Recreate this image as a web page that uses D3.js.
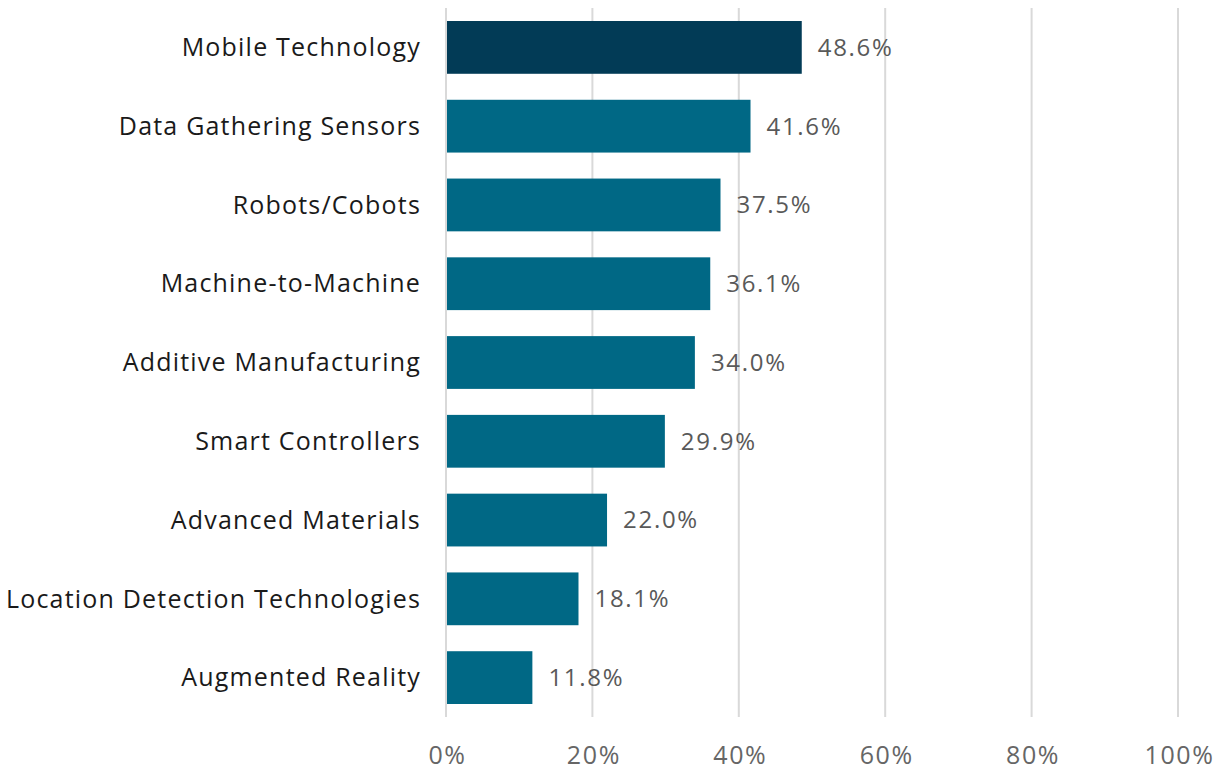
<!DOCTYPE html>
<html>
<head>
<meta charset="utf-8">
<script src="https://cdn.jsdelivr.net/npm/d3@7"></script>
<style>
  body { margin: 0; background: #fff; }
  svg text { font-family: "Open Sans", sans-serif; }
</style>
</head>
<body>
<div id="chart"></div>
<script>
var categories = [
    "Mobile Technology",
    "Data Gathering Sensors",
    "Robots/Cobots",
    "Machine-to-Machine",
    "Additive Manufacturing",
    "Smart Controllers",
    "Advanced Materials",
    "Location Detection Technologies",
    "Augmented Reality"
];
var values = [48.6, 41.6, 37.5, 36.1, 34.0, 29.9, 22.0, 18.1, 11.8];
var tick_values = [0, 20, 40, 60, 80, 100];

var width = 1227, height = 772;

var svg = d3.select("#chart")
    .append("svg")
    .attr("width", width)
    .attr("height", height);

var x = d3.scaleLinear()
    .domain([0, 100])
    .range([446, 1178]);

var y = d3.scaleBand()
    .domain(categories)
    .range([8, 717])
    .paddingInner(0.33)
    .paddingOuter(0.165);

// gridlines
svg.append("g")
    .selectAll("line")
    .data(tick_values)
    .enter()
    .append("line")
    .attr("x1", function (d) { return x(d); })
    .attr("x2", function (d) { return x(d); })
    .attr("y1", 8)
    .attr("y2", 717)
    .style("stroke", "#d9d9d9")
    .style("stroke-width", 2);

// x axis labels
svg.append("g")
    .attr("transform", "translate(1,755)")
    .call(d3.axisBottom(x).tickValues(tick_values)
        .tickFormat(function (d) { return d + "%"; })
        .tickSize(0).tickPadding(0))
    .call(function (g) { g.select(".domain").remove(); })
    .selectAll("text")
    .attr("dy", "0.35em")
    .style("font-family", "'Open Sans', sans-serif")
    .style("font-size", "25px")
    .style("letter-spacing", "1.6px")
    .style("fill", "#666666");

// bars
svg.append("g")
    .selectAll("rect")
    .data(values)
    .enter()
    .append("rect")
    .attr("x", x(0) + 1)
    .attr("y", function (d, i) { return y(categories[i]); })
    .attr("width", function (d) { return x(d) - x(0) - 1; })
    .attr("height", y.bandwidth())
    .style("fill", function (d, i) { return i == 0 ? "#023b56" : "#006885"; });

// value labels
svg.append("g")
    .selectAll("text")
    .data(values)
    .enter()
    .append("text")
    .attr("x", function (d) { return x(d) + 16; })
    .attr("y", function (d, i) { return y(categories[i]) + y.bandwidth() / 2; })
    .attr("dy", "0.35em")
    .style("font-size", "24px")
    .style("letter-spacing", "1.7px")
    .style("fill", "#595959")
    .text(function (d) { return d.toFixed(1) + "%"; });

// category labels
svg.append("g")
    .selectAll("text")
    .data(categories)
    .enter()
    .append("text")
    .attr("x", 421)
    .attr("y", function (d) { return y(d) + y.bandwidth() / 2; })
    .attr("dy", "0.35em")
    .attr("text-anchor", "end")
    .style("font-size", "25px")
    .style("letter-spacing", "1.2px")
    .style("fill", "#1a1a1a")
    .text(function (d) { return d; });
</script>
</body>
</html>
